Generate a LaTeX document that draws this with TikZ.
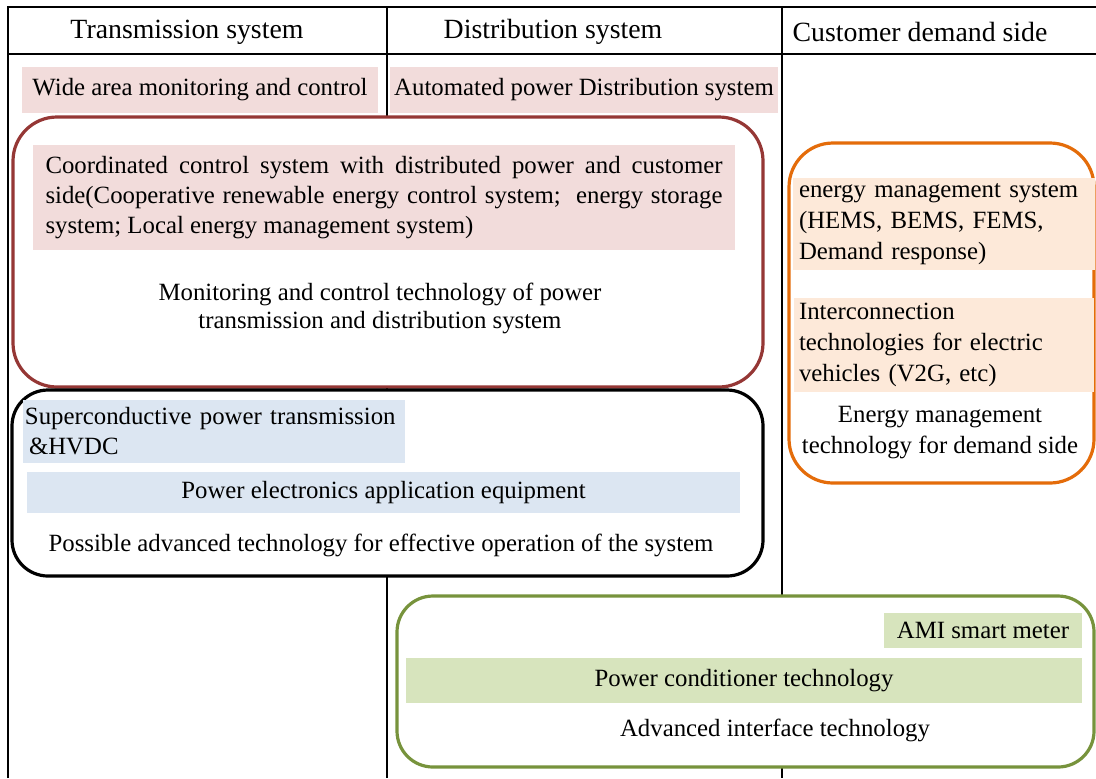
\documentclass[tikz,border=0pt]{standalone}
\usepackage{fontspec}
\setmainfont{Liberation Serif}
\hyphenpenalty=10000
\exhyphenpenalty=10000
\definecolor{pinkfill}{HTML}{F2DCDB}
\definecolor{redline}{HTML}{953735}
\definecolor{bluefill}{HTML}{DCE6F2}
\definecolor{peachfill}{HTML}{FDE9D9}
\definecolor{orangeline}{HTML}{E46C0A}
\definecolor{greenfill}{HTML}{D7E4BD}
\definecolor{greenline}{HTML}{77933C}
\begin{document}
\begin{tikzpicture}[x=0.5pt,y=-0.5pt,
    grid/.style={line width=1.4pt},
    frame/.style={line width=1.6pt,fill=white},
    body/.style={font=\fontsize{12.4}{15}\selectfont,inner sep=0pt},
    head/.style={font=\fontsize{13.9}{16}\selectfont,inner sep=0pt},
    tech/.style={body,align=center,font=\fontsize{12.4}{14}\selectfont},
    pinkbox/.style={body,fill=pinkfill},
    bluebox/.style={body,fill=bluefill},
    peachbox/.style={body,fill=peachfill,font=\fontsize{12.4}{15.5}\selectfont},
    greenbox/.style={body,fill=greenfill}]
    \useasboundingbox (0,0) rectangle (1096,778);
    \draw[grid] (8,778)--(8,7)--(1096,7);
    \draw[grid] (8,54)--(1096,54);
    \draw[grid] (387,7)--(387,778);
    \draw[grid] (782,7)--(782,778);
    \node[head] (th) at (187,32) {Transmission system};
    \node[head] (dh) at (553,32) {Distribution system};
    \node[head] (ch) at (920,32) {Customer demand side};
    \node[pinkbox,minimum width=178pt,minimum height=23pt] (wam) at (200,90) {Wide area monitoring and control};
    \node[pinkbox,minimum width=194pt,minimum height=23pt] (apd) at (584,90) {Automated power Distribution system};
    \draw[frame,draw=redline,rounded corners=22pt] (13,117) rectangle (763,387);
    \node[pinkbox,text width=338.5pt,align=justify,minimum height=52.5pt,inner xsep=6.2pt] (ccs) at (384,197.5)
        {Coordinated control system with distributed power and customer\linebreak side(Cooperative renewable energy control system;\ \ energy storage\linebreak system; Local energy management system)};
    \node[tech] (mct) at (380,308) {Monitoring and control technology of power\\transmission and distribution system};
    \draw[frame,draw=black,rounded corners=18pt] (12,390) rectangle (763,576);
    \node[bluebox,text width=189pt,align=left,minimum height=31.5pt,inner xsep=1pt] (sph) at (214,431.5)
        {Superconductive power transmission\\\hspace*{2pt}\&HVDC};
    \node[bluebox,minimum width=356.5pt,minimum height=20.5pt] (pee) at (383.5,492.5) {Power electronics application equipment};
    \node[tech] (pat) at (381,545) {Possible advanced technology for effective operation of the system};
    \draw[frame,draw=orangeline,rounded corners=22pt] (789,143) rectangle (1094,483);
    \node[peachbox,text width=145pt,align=left,minimum height=46pt,inner xsep=3pt] (ems) at (944,224)
        {energy management system\\(HEMS, BEMS, FEMS,\\Demand response)};
    \node[peachbox,text width=145pt,align=left,minimum height=47pt,inner xsep=2.5pt] (icv) at (944,345)
        {Interconnection\\technologies for electric\\vehicles (V2G, etc)};
    \node[tech,font=\fontsize{12.4}{15.5}\selectfont] (emt) at (940,433) {Energy management\\technology for demand side};
    \draw[frame,draw=greenline,rounded corners=18pt] (397,596) rectangle (1094,767);
    \node[greenbox,minimum width=99pt,minimum height=17.5pt] (ami) at (983,630.5) {AMI smart meter};
    \node[greenbox,minimum width=338pt,minimum height=22.5pt] (pct) at (744,680.5) {Power conditioner technology};
    \node[tech] (ait) at (775,730) {Advanced interface technology};
\end{tikzpicture}
\end{document}
